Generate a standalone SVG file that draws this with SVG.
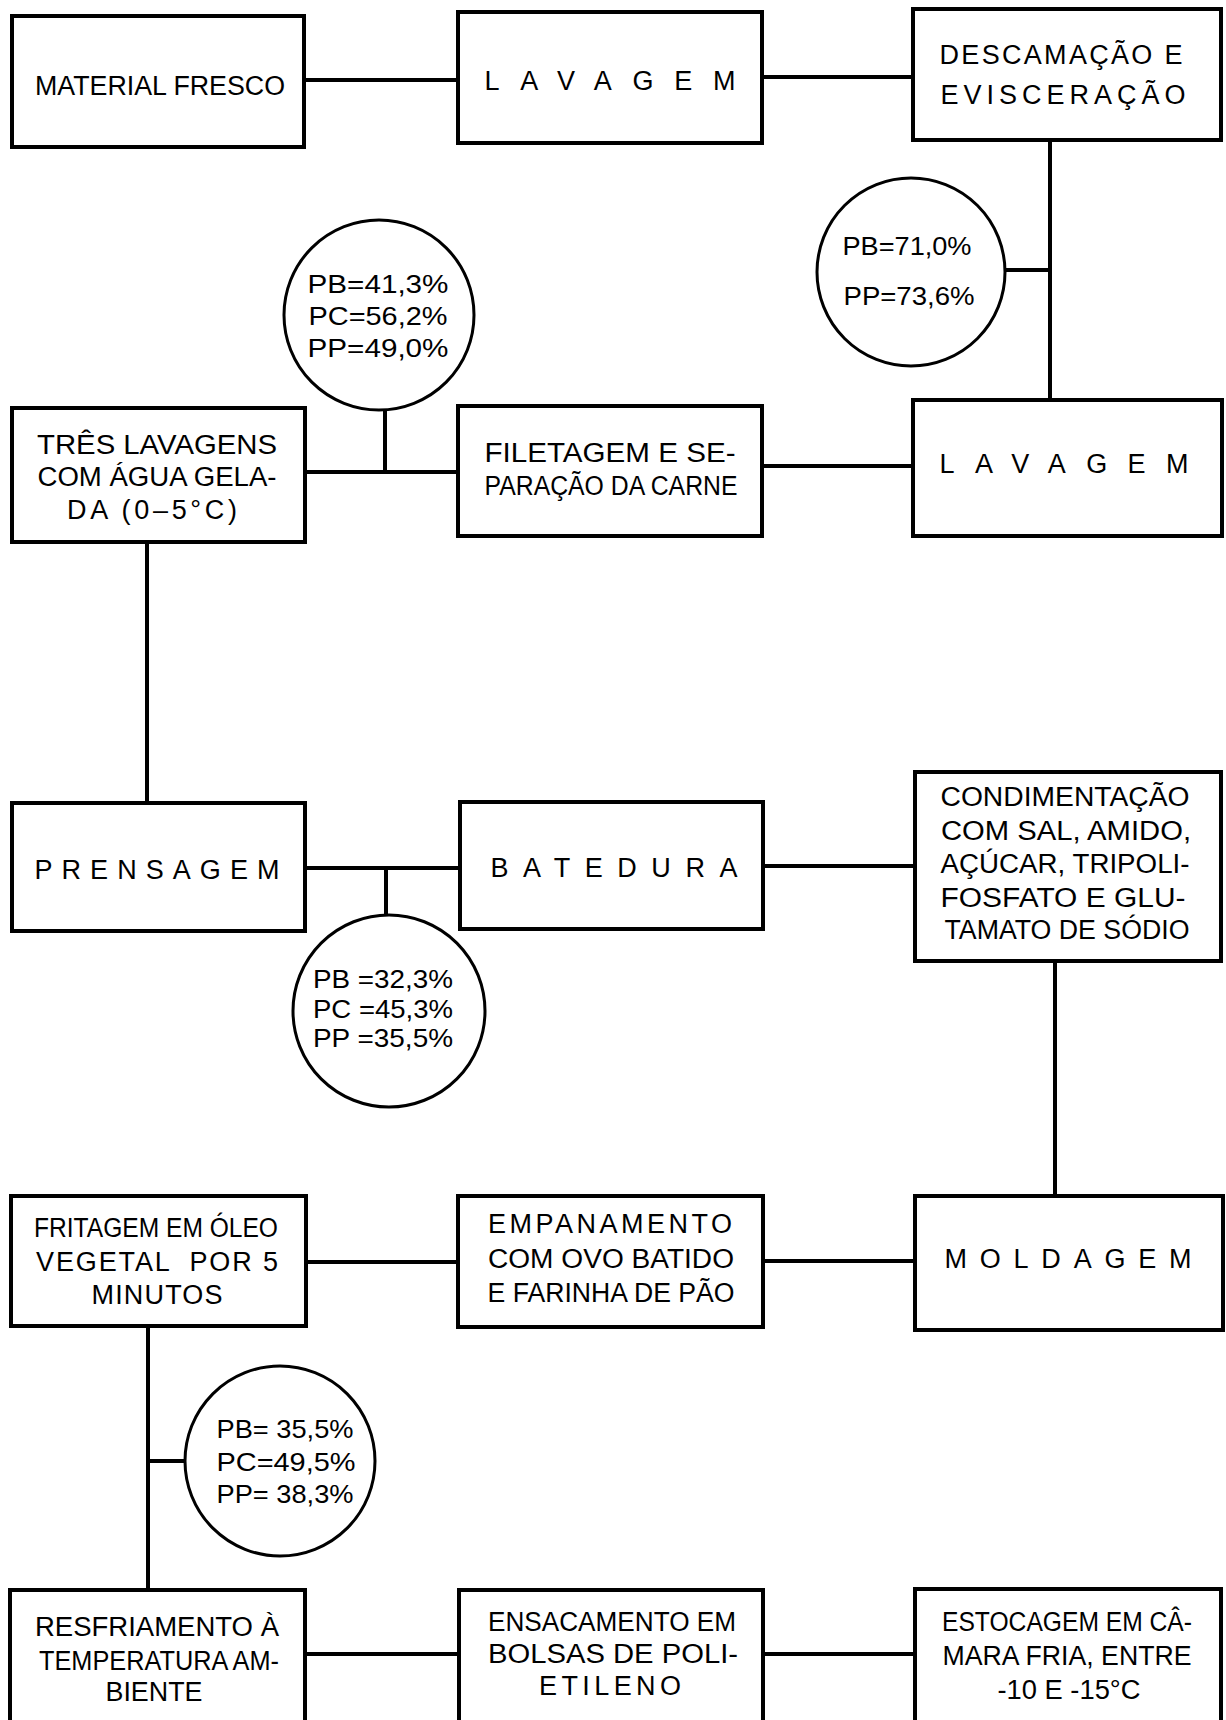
<svg xmlns="http://www.w3.org/2000/svg" width="1226" height="1720" viewBox="0 0 1226 1720">
<style>
.box{fill:none;stroke:#000;stroke-width:4;stroke-linejoin:miter}
.ln{stroke:#000;stroke-width:4;fill:none}
.cir{fill:none;stroke:#000;stroke-width:3}
text{font-family:"Liberation Sans",Arial,sans-serif;font-size:27px;fill:#000;text-anchor:middle}
.ct{font-size:25px}
</style>
<rect width="1226" height="1720" fill="#fff"/>
<g id="connectors">
<line class="ln" x1="304" y1="80" x2="458" y2="80"/>
<line class="ln" x1="762" y1="77" x2="913" y2="77"/>
<line class="ln" x1="1050" y1="140" x2="1050" y2="401"/>
<line class="ln" x1="1005" y1="270" x2="1050" y2="270"/>
<line class="ln" x1="762" y1="466" x2="913" y2="466"/>
<line class="ln" x1="304" y1="472" x2="458" y2="472"/>
<line class="ln" x1="385" y1="410" x2="385" y2="472"/>
<line class="ln" x1="147" y1="542" x2="147" y2="803"/>
<line class="ln" x1="305" y1="868" x2="460" y2="868"/>
<line class="ln" x1="386" y1="868" x2="386" y2="915"/>
<line class="ln" x1="763" y1="866" x2="915" y2="866"/>
<line class="ln" x1="1055" y1="961" x2="1055" y2="1196"/>
<line class="ln" x1="763" y1="1261" x2="915" y2="1261"/>
<line class="ln" x1="306" y1="1262" x2="458" y2="1262"/>
<line class="ln" x1="148" y1="1326" x2="148" y2="1590"/>
<line class="ln" x1="148" y1="1461" x2="186" y2="1461"/>
<line class="ln" x1="305" y1="1654" x2="459" y2="1654"/>
<line class="ln" x1="763" y1="1654" x2="915" y2="1654"/>
</g>
<g id="n-material">
<rect class="box" x="12" y="16" width="292" height="131"/>
<text x="160" y="95" textLength="250" lengthAdjust="spacingAndGlyphs">MATERIAL FRESCO</text>
</g>
<g id="n-lavagem1">
<rect class="box" x="458" y="12" width="304" height="131"/>
<text x="610" y="90" textLength="251">LAVAGEM</text>
</g>
<g id="n-descamacao">
<rect class="box" x="913" y="9" width="308" height="131"/>
<text x="1061" y="64" textLength="243">DESCAMAÇÃO E</text>
<text x="1063" y="104" textLength="245">EVISCERAÇÃO</text>
</g>
<g id="c-2">
<circle class="cir" cx="911" cy="272" r="94"/>
<text class="ct" x="907" y="255" textLength="129" lengthAdjust="spacingAndGlyphs">PB=71,0%</text>
<text class="ct" x="909" y="305" textLength="131" lengthAdjust="spacingAndGlyphs">PP=73,6%</text>
</g>
<g id="c-1">
<circle class="cir" cx="379" cy="315" r="95"/>
<text class="ct" x="378" y="293" textLength="141" lengthAdjust="spacingAndGlyphs">PB=41,3%</text>
<text class="ct" x="378" y="325" textLength="139" lengthAdjust="spacingAndGlyphs">PC=56,2%</text>
<text class="ct" x="378" y="357" textLength="141" lengthAdjust="spacingAndGlyphs">PP=49,0%</text>
</g>
<g id="n-tres">
<rect class="box" x="12" y="408" width="293" height="134"/>
<text x="157" y="454" textLength="240" lengthAdjust="spacingAndGlyphs">TRÊS LAVAGENS</text>
<text x="157" y="486" textLength="239" lengthAdjust="spacingAndGlyphs">COM ÁGUA GELA-</text>
<text x="152" y="519" textLength="170">DA (0–5°C)</text>
</g>
<g id="n-filetagem">
<rect class="box" x="458" y="406" width="304" height="130"/>
<text x="610" y="462" textLength="251" lengthAdjust="spacingAndGlyphs">FILETAGEM E SE-</text>
<text x="611" y="495" textLength="253" lengthAdjust="spacingAndGlyphs">PARAÇÃO DA CARNE</text>
</g>
<g id="n-lavagem2">
<rect class="box" x="913" y="400" width="309" height="136"/>
<text x="1064" y="473" textLength="249">LAVAGEM</text>
</g>
<g id="n-prensagem">
<rect class="box" x="12" y="803" width="293" height="128"/>
<text x="157" y="879" textLength="245">PRENSAGEM</text>
</g>
<g id="n-batedura">
<rect class="box" x="460" y="802" width="303" height="127"/>
<text x="614" y="877" textLength="247">BATEDURA</text>
</g>
<g id="c-3">
<circle class="cir" cx="389" cy="1011" r="96"/>
<text class="ct" x="383" y="988" textLength="140" lengthAdjust="spacingAndGlyphs">PB =32,3%</text>
<text class="ct" x="383" y="1018" textLength="140" lengthAdjust="spacingAndGlyphs">PC =45,3%</text>
<text class="ct" x="383" y="1047" textLength="140" lengthAdjust="spacingAndGlyphs">PP =35,5%</text>
</g>
<g id="n-condimentacao">
<rect class="box" x="915" y="772" width="306" height="189"/>
<text x="1065" y="806" textLength="249" lengthAdjust="spacingAndGlyphs">CONDIMENTAÇÃO</text>
<text x="1066" y="840" textLength="250" lengthAdjust="spacingAndGlyphs">COM SAL, AMIDO,</text>
<text x="1065" y="873" textLength="249" lengthAdjust="spacingAndGlyphs">AÇÚCAR, TRIPOLI-</text>
<text x="1063" y="907" textLength="245" lengthAdjust="spacingAndGlyphs">FOSFATO E GLU-</text>
<text x="1067" y="939" textLength="245" lengthAdjust="spacingAndGlyphs">TAMATO DE SÓDIO</text>
</g>
<g id="n-fritagem">
<rect class="box" x="11" y="1196" width="295" height="130"/>
<text x="156" y="1237" textLength="244" lengthAdjust="spacingAndGlyphs">FRITAGEM EM ÓLEO</text>
<text x="157" y="1271" textLength="242" xml:space="preserve">VEGETAL  POR 5</text>
<text x="157" y="1304" textLength="131">MINUTOS</text>
</g>
<g id="n-empanamento">
<rect class="box" x="458" y="1196" width="305" height="131"/>
<text x="610" y="1233" textLength="244">EMPANAMENTO</text>
<text x="611" y="1268" textLength="246" lengthAdjust="spacingAndGlyphs">COM OVO BATIDO</text>
<text x="611" y="1302" textLength="247" lengthAdjust="spacingAndGlyphs">E FARINHA DE PÃO</text>
</g>
<g id="n-moldagem">
<rect class="box" x="915" y="1196" width="308" height="134"/>
<text x="1068" y="1268" textLength="247">MOLDAGEM</text>
</g>
<g id="c-4">
<circle class="cir" cx="280" cy="1461" r="95"/>
<text class="ct" x="285" y="1438" textLength="137" lengthAdjust="spacingAndGlyphs">PB= 35,5%</text>
<text class="ct" x="286" y="1471" textLength="139" lengthAdjust="spacingAndGlyphs">PC=49,5%</text>
<text class="ct" x="285" y="1503" textLength="137" lengthAdjust="spacingAndGlyphs">PP= 38,3%</text>
</g>
<g id="n-resfriamento">
<rect class="box" x="10" y="1590" width="295" height="150"/>
<text x="157" y="1636" textLength="244" lengthAdjust="spacingAndGlyphs">RESFRIAMENTO À</text>
<text x="159" y="1670" textLength="240" lengthAdjust="spacingAndGlyphs">TEMPERATURA AM-</text>
<text x="154" y="1701" textLength="97" lengthAdjust="spacingAndGlyphs">BIENTE</text>
</g>
<g id="n-ensacamento">
<rect class="box" x="459" y="1590" width="304" height="150"/>
<text x="612" y="1631" textLength="248" lengthAdjust="spacingAndGlyphs">ENSACAMENTO EM</text>
<text x="613" y="1663" textLength="250" lengthAdjust="spacingAndGlyphs">BOLSAS DE POLI-</text>
<text x="610" y="1695" textLength="142">ETILENO</text>
</g>
<g id="n-estocagem">
<rect class="box" x="915" y="1589" width="306" height="151"/>
<text x="1067" y="1631" textLength="250" lengthAdjust="spacingAndGlyphs">ESTOCAGEM EM CÂ-</text>
<text x="1067" y="1665" textLength="249" lengthAdjust="spacingAndGlyphs">MARA FRIA, ENTRE</text>
<text x="1069" y="1699" textLength="143" lengthAdjust="spacingAndGlyphs">-10 E -15°C</text>
</g>
</svg>
